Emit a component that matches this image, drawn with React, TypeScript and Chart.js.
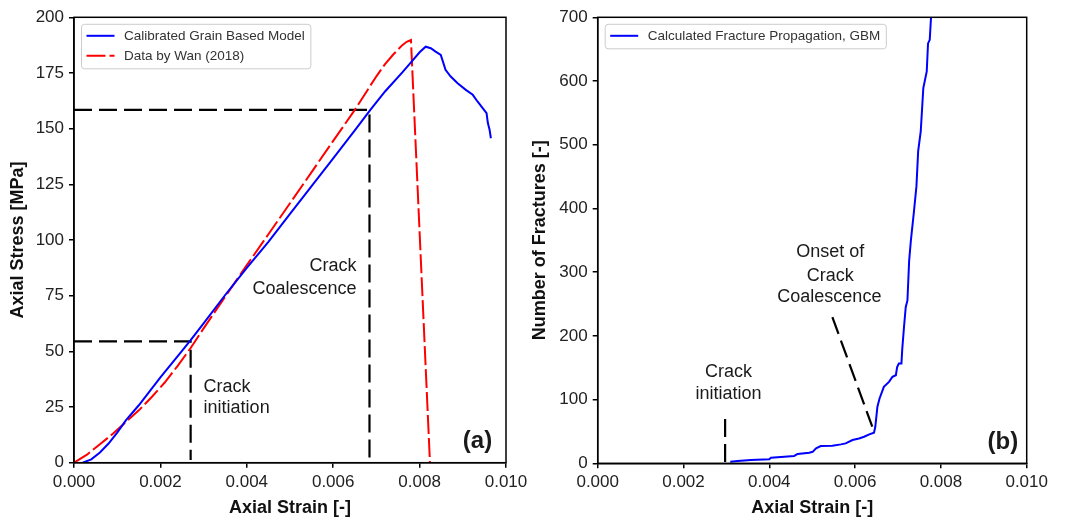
import React, { useEffect, useRef } from 'react';
import { Chart, registerables } from 'chart.js';
Chart.register(...registerables);

const FONT = "'Liberation Sans', Arial, Helvetica, sans-serif";

// ---------- Panel (a): stress-strain ----------
const gbmStrain = [0.0002, 0.0004, 0.0006, 0.0008, 0.001, 0.0012, 0.0015, 0.002, 0.0025, 0.0027, 0.003, 0.0035, 0.004, 0.0045, 0.005, 0.0055, 0.006, 0.0065, 0.00686, 0.0072, 0.0076, 0.0078, 0.008, 0.00814, 0.00826, 0.00837, 0.00849, 0.00854, 0.0086, 0.00872, 0.00888, 0.00907, 0.00923, 0.00934, 0.00946, 0.00955, 0.00958, 0.00962, 0.00965];
const gbmStress = [0, 1.5, 4.6, 8.6, 13.5, 19, 25.8, 38.3, 50.2, 55, 62.6, 75.3, 87.5, 99.2, 111.7, 124.2, 136.7, 149.2, 158.4, 166.7, 175.3, 179.8, 184.3, 186.8, 186.1, 184.6, 183.1, 180.1, 176.4, 173.4, 170.4, 167.4, 165.2, 162.2, 159.2, 157, 152.5, 149.5, 145.7];

const wanStrain = [0, 0.0003, 0.0006, 0.0009, 0.0012, 0.0015, 0.0018, 0.0021, 0.0024, 0.0027, 0.003, 0.0035, 0.004, 0.0045, 0.005, 0.0055, 0.006, 0.0065, 0.0068, 0.007, 0.0072, 0.0074, 0.0076, 0.0077, 0.0078, 0.00824];
const wanStress = [0, 3.6, 8.3, 13, 18.3, 23.5, 29.5, 36, 43.5, 51.5, 60.3, 74.6, 88.7, 102.6, 116.5, 130.5, 144.5, 158.4, 167.5, 173.5, 179, 183.5, 187.5, 189, 189.8, 0];

// guide lines (a)
const initGuideAStrain = [0, 0.0027, 0.0027];
const initGuideAStress = [54.5, 54.5, 1.2];
const coalGuideAStrain = [0, 0.00684, 0.00684];
const coalGuideAStress = [158.4, 158.4, 1.5];

// ---------- Panel (b): fracture count ----------
const fracStrain = [0.00309, 0.00326, 0.00357, 0.004, 0.00404, 0.00435, 0.00458, 0.00466, 0.00493, 0.00501, 0.00509, 0.0052, 0.00547, 0.00567, 0.00578, 0.00594, 0.00609, 0.00621, 0.00633, 0.00644, 0.00647, 0.00652, 0.00657, 0.00667, 0.00679, 0.00687, 0.00695, 0.00698, 0.00702, 0.00708, 0.0071, 0.00714, 0.00718, 0.00722, 0.00726, 0.0073, 0.00737, 0.00743, 0.00747, 0.00753, 0.00759, 0.00767, 0.0077, 0.00774, 0.00777];
const fracCount = [2.6, 3.7, 5.2, 6.3, 8.9, 10.4, 11.5, 14.6, 16.7, 18, 23.5, 27, 27.6, 29.7, 31.3, 36.5, 39, 41.7, 45.4, 48, 57, 88.7, 101.7, 120, 127.8, 135.6, 138.2, 151, 156.5, 156.5, 180, 213.9, 245, 255.6, 318, 349.5, 394, 435, 490, 521, 589, 615, 659, 664.6, 700];

const initGuideBStrain = [0.00297, 0.00297];
const initGuideBCount = [2, 70];
const coalGuideBStrain = [0.00547, 0.0064];
const coalGuideBCount = [229.5, 57.4];

// ---------- ticks ----------
const strainTicks = [0, 0.002, 0.004, 0.006, 0.008, 0.01];
const stressTicks = [0, 25, 50, 75, 100, 125, 150, 175, 200];
const fractureTicks = [0, 100, 200, 300, 400, 500, 600, 700];

const toPts = (xs: number[], ys: number[]) => xs.map((x, i) => ({ x, y: ys[i] }));

type Note = { text: string; x: number; y: number; align: CanvasTextAlign; big?: boolean };

const notesA: Note[] = [
  { text: 'Crack', x: 0.0030, y: 34.2, align: 'left' },
  { text: 'initiation', x: 0.0030, y: 24.4, align: 'left' },
  { text: 'Crack', x: 0.00654, y: 88.2, align: 'right' },
  { text: 'Coalescence', x: 0.00654, y: 78, align: 'right' },
  { text: '(a)', x: 0.00968, y: 9.4, align: 'right', big: true },
];
const notesB: Note[] = [
  { text: 'Crack', x: 0.00305, y: 143.5, align: 'center' },
  { text: 'initiation', x: 0.00305, y: 109.5, align: 'center' },
  { text: 'Onset of', x: 0.00542, y: 331.3, align: 'center' },
  { text: 'Crack', x: 0.00542, y: 294.7, align: 'center' },
  { text: 'Coalescence', x: 0.0054, y: 260.8, align: 'center' },
  { text: '(b)', x: 0.0098, y: 32.3, align: 'right', big: true },
];

function makeDecor(notes: Note[]) {
  return {
    id: 'decor',
    afterDatasetsDraw(chart: any) {
      const { ctx, chartArea: a, scales } = chart;
      ctx.save();
      // frame
      ctx.strokeStyle = '#000';
      ctx.lineWidth = 1.5;
      ctx.setLineDash([]);
      ctx.strokeRect(a.left, a.top, a.right - a.left, a.bottom - a.top);
      // notes
      for (const n of notes) {
        ctx.font = n.big ? `bold 24px ${FONT}` : `18px ${FONT}`;
        ctx.fillStyle = '#1a1a1a';
        ctx.textAlign = n.align;
        ctx.textBaseline = 'middle';
        ctx.fillText(n.text, scales.x.getPixelForValue(n.x), scales.y.getPixelForValue(n.y));
      }
      // legend
      const items = chart.data.datasets.filter((d: any) => !d.label.startsWith('_'));
      ctx.font = `13.5px ${FONT}`;
      const tw = Math.max(...items.map((d: any) => ctx.measureText(d.label).width));
      const bx = a.left + 7.5;
      const by = a.top + 7;
      const bw = 42.5 + tw + 6;
      const bh = items.length * 20 + 4.5;
      ctx.beginPath();
      if ((ctx as any).roundRect) (ctx as any).roundRect(bx, by, bw, bh, 3);
      else ctx.rect(bx, by, bw, bh);
      ctx.fillStyle = 'rgba(255,255,255,0.85)';
      ctx.fill();
      ctx.strokeStyle = '#cccccc';
      ctx.lineWidth = 1;
      ctx.stroke();
      items.forEach((d: any, i: number) => {
        const cy = by + 11.5 + i * 20;
        ctx.beginPath();
        ctx.setLineDash(d.borderDash || []);
        ctx.strokeStyle = d.borderColor;
        ctx.lineWidth = 2;
        ctx.moveTo(bx + 5, cy);
        ctx.lineTo(bx + 33, cy);
        ctx.stroke();
        ctx.setLineDash([]);
        ctx.fillStyle = '#333';
        ctx.textAlign = 'left';
        ctx.textBaseline = 'middle';
        ctx.fillText(d.label, bx + 42.5, cy);
      });
      ctx.restore();
    },
  };
}

function axis(ticks: number[], title: string, isX: boolean, fit: number, titlePad: any) {
  return {
    type: 'linear',
    min: ticks[0],
    max: ticks[ticks.length - 1],
    afterBuildTicks: (s: any) => {
      s.ticks = ticks.map((v) => ({ value: v }));
    },
    afterFit: (s: any) => {
      if (isX) s.height = fit;
      else s.width = fit;
    },
    ticks: {
      font: { family: FONT, size: 17 },
      color: '#222',
      padding: isX ? 4 : 5,
      autoSkip: false,
      maxRotation: 0,
      callback: (v: any) => (isX ? Number(v).toFixed(3) : String(v)),
    },
    grid: {
      drawOnChartArea: false,
      drawTicks: true,
      tickLength: 5,
      tickColor: '#000',
      tickWidth: 1.5,
      color: '#000',
      lineWidth: 1.5,
    },
    border: { display: true, color: '#000', width: 1.5 },
    title: {
      display: true,
      text: title,
      font: { family: FONT, size: 18, weight: 'bold' },
      color: '#111',
      padding: titlePad,
    },
  };
}

const guide = (label: string, xs: number[], ys: number[]) => ({
  label,
  data: toPts(xs, ys),
  borderColor: '#000',
  borderWidth: 2.2,
  borderDash: [18, 7],
  pointRadius: 0,
  fill: false,
});

function configA(): any {
  return {
    type: 'line',
    data: {
      datasets: [
        { label: 'Calibrated Grain Based Model', data: toPts(gbmStrain, gbmStress), borderColor: '#0000ff', borderWidth: 2, pointRadius: 0, fill: false },
        { label: 'Data by Wan (2018)', data: toPts(wanStrain, wanStress), borderColor: '#ff0000', borderWidth: 2, borderDash: [19, 4], pointRadius: 0, fill: false },
        guide('_g1', initGuideAStrain, initGuideAStress),
        guide('_g2', coalGuideAStrain, coalGuideAStress),
      ],
    },
    options: {
      animation: false,
      responsive: false,
      maintainAspectRatio: false,
      events: [],
      layout: { padding: { left: 0, top: 17.3, right: 34, bottom: 0 } },
      elements: { line: { tension: 0 } },
      scales: {
        x: axis(strainTicks, 'Axial Strain [-]', true, 57.3, { top: 0, bottom: 1 }),
        y: axis(stressTicks, 'Axial Stress [MPa]', false, 74, { top: 7.5, bottom: 0 }),
      },
      plugins: { legend: { display: false }, tooltip: { enabled: false } },
    },
    plugins: [makeDecor(notesA)],
  };
}

function configB(): any {
  return {
    type: 'line',
    data: {
      datasets: [
        { label: 'Calculated Fracture Propagation, GBM', data: toPts(fracStrain, fracCount), borderColor: '#0000ff', borderWidth: 2, pointRadius: 0, fill: false },
        guide('_g1', initGuideBStrain, initGuideBCount),
        guide('_g2', coalGuideBStrain, coalGuideBCount),
      ],
    },
    options: {
      animation: false,
      responsive: false,
      maintainAspectRatio: false,
      events: [],
      layout: { padding: { left: 0, top: 17.3, right: 45.3, bottom: 0 } },
      elements: { line: { tension: 0 } },
      scales: {
        x: axis(strainTicks, 'Axial Strain [-]', true, 56.7, { top: 0, bottom: 1 }),
        y: axis(fractureTicks, 'Number of Fractures [-]', false, 77.7, { top: 9.2, bottom: 0 }),
      },
      plugins: { legend: { display: false }, tooltip: { enabled: false } },
    },
    plugins: [makeDecor(notesB)],
  };
}

function Panel({ make, left, width }: { make: () => any; left: number; width: number }) {
  const ref = useRef<HTMLCanvasElement>(null);
  useEffect(() => {
    const chart = new Chart(ref.current as HTMLCanvasElement, make());
    return () => chart.destroy();
  }, []);
  return (
    <canvas
      ref={ref}
      width={width}
      height={520}
      style={{ position: 'absolute', left, top: 0, width, height: 520, display: 'block' }}
    />
  );
}

export default function App() {
  return (
    <div style={{ position: 'absolute', left: 0, top: 0, width: 1072, height: 520, background: '#fff', overflow: 'hidden' }}>
      <Panel make={configA} left={0} width={540} />
      <Panel make={configB} left={520} width={552} />
    </div>
  );
}
